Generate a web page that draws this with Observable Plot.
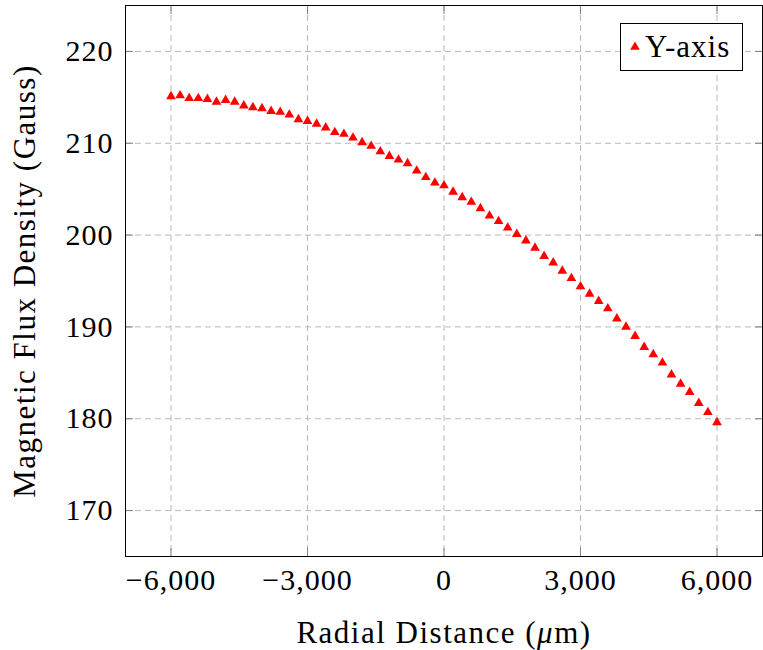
<!DOCTYPE html>
<html>
<head>
<meta charset="utf-8">
<script src="https://cdn.jsdelivr.net/npm/d3@7"></script>
<script src="https://cdn.jsdelivr.net/npm/@observablehq/plot@0.6"></script>
<style>
  html, body { margin: 0; padding: 0; background: white; }
  #wrap { position: relative; width: 763px; height: 650px; }
  #legend {
    position: absolute; left: 620px; top: 23px; width: 121px; height: 46px;
    border: 1px solid #000; background: white;
    font-family: "Liberation Serif", serif; font-size: 31px; letter-spacing: 1px; color: #000;
  }
  #legend svg { position: absolute; left: 7px; top: 16px; }
  #legend span { position: absolute; left: 24px; top: 6px; line-height: 34px; }
</style>
</head>
<body>
<div id="wrap"></div>
<script>
const radialDistance = [
  -6000, -5800, -5600, -5400, -5200, -5000, -4800, -4600, -4400, -4200,
  -4000, -3800, -3600, -3400, -3200, -3000, -2800, -2600, -2400, -2200,
  -2000, -1800, -1600, -1400, -1200, -1000, -800, -600, -400, -200,
  0, 200, 400, 600, 800, 1000, 1200, 1400, 1600, 1800,
  2000, 2200, 2400, 2600, 2800, 3000, 3200, 3400, 3600, 3800,
  4000, 4200, 4400, 4600, 4800, 5000, 5200, 5400, 5600, 5800, 6000
];
const fluxDensity = [
  215.1, 215.2, 214.9, 214.9, 214.8, 214.5, 214.7, 214.5, 214.1, 213.9,
  213.8, 213.5, 213.4, 213.1, 212.6, 212.4, 212.1, 211.7, 211.2, 211.0,
  210.6, 210.1, 209.7, 209.1, 208.6, 208.2, 207.8, 207.0, 206.3, 205.7,
  205.4, 204.7, 204.1, 203.6, 202.9, 202.1, 201.5, 200.8, 200.1, 199.4,
  198.6, 197.7, 197.0, 196.1, 195.3, 194.4, 193.6, 192.8, 192.0, 190.9,
  190.0, 189.0, 187.8, 187.0, 186.1, 184.8, 183.8, 182.9, 181.7, 180.7, 179.6
];
const xTicks = [-6000, -3000, 0, 3000, 6000];
const yTicks = [170, 180, 190, 200, 210, 220];
const seriesName = "Y-axis";
const xLabel = "Radial Distance (μm)";
const yLabel = "Magnetic Flux Density (Gauss)";

const data = radialDistance.map((x, i) => ({x, y: fluxDensity[i]}));
const gridStyle = {stroke: "#b8b8b8", strokeOpacity: 1, strokeWidth: 1, strokeDasharray: "6,4"};
const tickColor = "#7f7f7f";

const chart = Plot.plot({
  width: 763,
  height: 650,
  marginLeft: 125,
  marginRight: 1,
  marginTop: 5,
  marginBottom: 94,
  style: {fontFamily: "'Liberation Serif', serif", fontSize: "30px", letterSpacing: "1px", background: "white", color: "#000"},
  x: {domain: [-7000, 7000]},
  y: {domain: [165, 225]},
  marks: [
    Plot.gridX(xTicks, gridStyle),
    Plot.gridY(yTicks, gridStyle),
    Plot.axisX(xTicks, {anchor: "bottom", tickSize: -8, tickPadding: 20, stroke: tickColor,
      tickFormat: d3.format(","), label: xLabel, labelAnchor: "center", labelArrow: "none", labelOffset: 86}),
    Plot.axisX(xTicks, {anchor: "top", tickSize: -8, stroke: tickColor, tickFormat: () => "", label: null}),
    Plot.axisY(yTicks, {anchor: "left", tickSize: -8, tickPadding: 20, stroke: tickColor,
      label: yLabel, labelAnchor: "center", labelArrow: "none", labelOffset: 113}),
    Plot.axisY(yTicks, {anchor: "right", tickSize: -8, stroke: tickColor, tickFormat: () => "", label: null}),
    Plot.dot(data, {x: "x", y: "y", symbol: "triangle", r: 3.6, fill: "#ff0000", stroke: "none"}),
    Plot.frame({stroke: "#000", strokeWidth: 1})
  ]
});

// axis titles: slightly larger, wider set (LaTeX-like); italic mu
chart.querySelectorAll("text").forEach(t => {
  const s = t.textContent;
  if (s === xLabel || s === yLabel) {
    t.setAttribute("font-size", "31");
    t.style.letterSpacing = "1.5px";
  }
  if (s === xLabel) {
    const parts = xLabel.split("μ");
    t.textContent = "";
    const ns = "http://www.w3.org/2000/svg";
    const a = document.createElementNS(ns, "tspan"); a.textContent = parts[0];
    const m = document.createElementNS(ns, "tspan"); m.textContent = "μ"; m.setAttribute("font-style", "italic");
    const b = document.createElementNS(ns, "tspan"); b.textContent = parts[1];
    t.append(a, m, b);
  }
});

const wrap = document.getElementById("wrap");
wrap.appendChild(chart);
const legend = document.createElement("div");
legend.id = "legend";
legend.innerHTML = `<svg width="14" height="14" viewBox="-7 -7 14 14"><path d="${d3.symbol(d3.symbolTriangle, Math.PI * 3.6 * 3.6)()}" fill="#ff0000"/></svg><span>${seriesName}</span>`;
wrap.appendChild(legend);
</script>
</body>
</html>
